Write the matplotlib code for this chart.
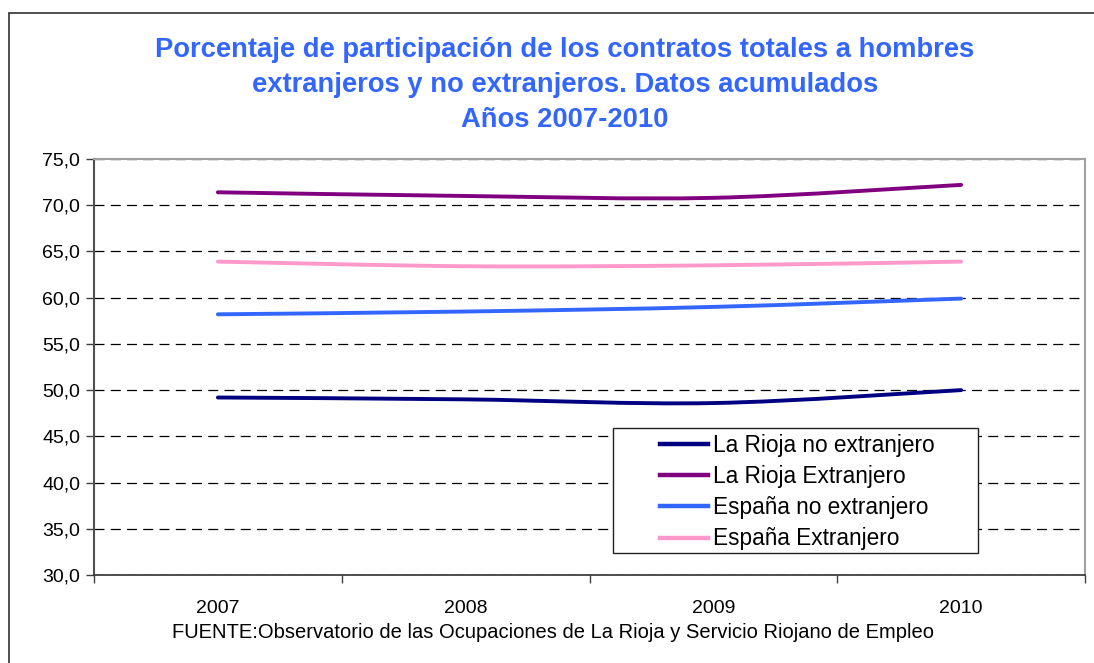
import matplotlib
matplotlib.use("Agg")
import matplotlib.pyplot as plt
from matplotlib.path import Path
from matplotlib.patches import PathPatch, Rectangle
from matplotlib.lines import Line2D
from matplotlib.ticker import FuncFormatter, FixedLocator
import numpy as np

plt.rcParams['font.family'] = ['Liberation Sans', 'DejaVu Sans']

years = ['2007', '2008', '2009', '2010']
rioja_no_ext = [49.2, 49.0, 48.6, 50.0]
rioja_ext = [71.4, 71.0, 70.8, 72.2]
espana_no_ext = [58.2, 58.5, 59.0, 59.9]
espana_ext = [63.9, 63.4, 63.5, 63.9]

series = [
    ('La Rioja no extranjero', rioja_no_ext, '#000080'),
    ('La Rioja Extranjero', rioja_ext, '#800080'),
    ('España no extranjero', espana_no_ext, '#3366FF'),
    ('España Extranjero', espana_ext, '#FF99CC'),
]


def smooth_path(xs, ys):
    # bezier segments like the "smoothed line" option of a spreadsheet
    pts = np.column_stack([xs, ys]).astype(float)
    ext = np.vstack([pts[0], pts, pts[-1]])
    verts = [pts[0]]
    codes = [Path.MOVETO]
    for i in range(len(pts) - 1):
        p0, p1, p2, p3 = ext[i], ext[i + 1], ext[i + 2], ext[i + 3]
        c1 = p1 + (p2 - p0) / 6.0
        c2 = p2 - (p3 - p1) / 6.0
        verts += [c1, c2, p2]
        codes += [Path.CURVE4] * 3
    return Path(verts, codes)


W, H = 1094, 663
fig = plt.figure(figsize=(W / 100, H / 100), dpi=100)
ax = fig.add_axes([94 / W, 1 - 575 / H, (1085 - 94) / W, (575 - 159) / H])

x = np.arange(len(years))
handles = []
for name, vals, col in series:
    patch = PathPatch(smooth_path(x, vals), facecolor='none', edgecolor=col,
                      linewidth=2.8, capstyle='round', zorder=3)
    ax.add_patch(patch)
    handles.append(Line2D([], [], color=col, linewidth=3.2, label=name))

ax.set_xlim(-0.5, len(years) - 0.5)
ax.set_ylim(30, 75)
ax.set_yticks(np.arange(30, 76, 5))
ax.yaxis.set_major_formatter(FuncFormatter(lambda v, p: f'{v:.1f}'.replace('.', ',')))
ax.yaxis.grid(True, color='black', linestyle=(0, (8, 5)), linewidth=0.9)
ax.set_axisbelow(True)

ax.xaxis.set_major_locator(FixedLocator(x))
ax.set_xticklabels(years)
ax.xaxis.set_minor_locator(FixedLocator(np.arange(-0.5, len(years), 1.0)))
ax.tick_params(axis='x', which='major', length=0, pad=18, labelsize=14)
ax.tick_params(axis='x', which='minor', length=6, width=1, color='#404040', direction='out')
ax.tick_params(axis='y', length=6, width=1, color='#404040', labelsize=14, pad=4)

for s in ['top', 'right']:
    ax.spines[s].set_color('#a0a0a0')
    ax.spines[s].set_linewidth(1.5)
ax.spines['left'].set_color('#505050')
ax.spines['left'].set_linewidth(1.5)
ax.spines['bottom'].set_color('#303030')
ax.spines['bottom'].set_linewidth(1.2)

# legend box drawn separately so the entries can sit centred inside it
ax.add_patch(Rectangle((613 / W, 1 - 553 / H), (978 - 613) / W, (553 - 428) / H,
                       transform=fig.transFigure, facecolor='white',
                       edgecolor='#202020', linewidth=1, zorder=4))
leg = ax.legend(handles=handles, loc='upper left',
                bbox_to_anchor=(660 / W, 1 - 434 / H),
                bbox_transform=fig.transFigure,
                fontsize=16.3, frameon=False, borderpad=0,
                handlelength=2.1, handletextpad=0.25, labelspacing=0.36,
                borderaxespad=0)
leg.set_zorder(5)

fig.text(565 / W, 1 - 85 / H,
         'Porcentaje de participación de los contratos totales a hombres\n'
         'extranjeros y no extranjeros. Datos acumulados\nAños 2007-2010',
         ha='center', va='center', color='#3366FF', fontsize=19.7,
         fontweight='bold', linespacing=1.46)

fig.text(553 / W, 1 - 633 / H,
         'FUENTE:Observatorio de las Ocupaciones de La Rioja y Servicio Riojano de Empleo',
         ha='center', va='center', fontsize=14.5)

fig.patches.append(Rectangle((9 / W, -0.05), 1.1, 1.05 - 13 / H,
                             transform=fig.transFigure, fill=False,
                             edgecolor='#303030', linewidth=1.2))

fig.savefig('out.png', dpi=100)
